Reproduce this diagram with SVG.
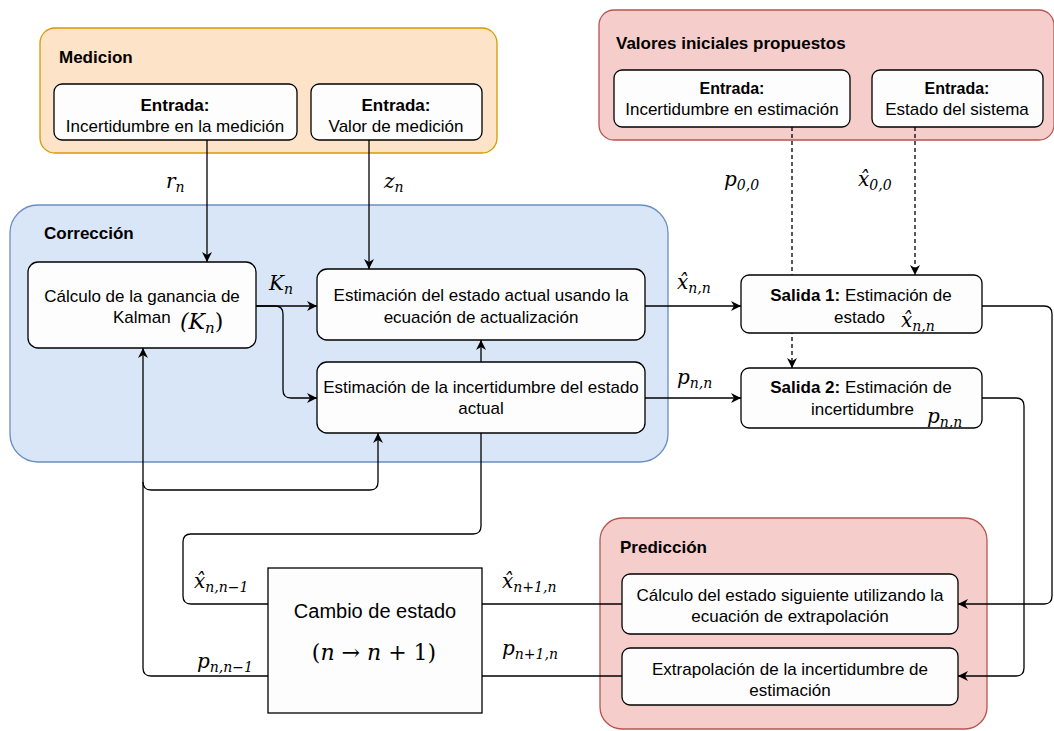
<svg xmlns="http://www.w3.org/2000/svg" width="1054" height="731" viewBox="0 0 1054 731">
<style>
.t{font-family:"Liberation Sans",Arial,sans-serif;font-size:17px;fill:#000}
.b{font-weight:bold}
.ttl{font-family:"Liberation Sans",Arial,sans-serif;font-size:17px;font-weight:bold;fill:#000}
.m{font-family:"DejaVu Serif","Liberation Serif",serif;font-style:italic;font-size:20px;fill:#000}
.s{font-size:14px}
.box{fill:#fdfdfd;stroke:#000;stroke-width:1.3}
.c{fill:none;stroke:#000;stroke-width:1.3}
.d{fill:none;stroke:#000;stroke-width:1.3;stroke-dasharray:4 3}
</style>
<defs>
<marker id="ah" viewBox="0 0 10 10" refX="10" refY="5" markerWidth="10" markerHeight="10" markerUnits="userSpaceOnUse" orient="auto">
<path d="M0,0 L10,5 L0,10 L3,5 z" fill="#000"/>
</marker>
</defs>
<rect width="1054" height="731" fill="#fff"/>
<g id="medicion-group">
<rect x="40" y="28" width="457" height="125" rx="15" fill="#fde3c7" stroke="#d79b00" stroke-width="1.3"/>
<text class="ttl" x="59" y="63">Medicion</text>
</g>
<g id="valores-group">
<rect x="599" y="10" width="455" height="130" rx="15" fill="#f5cdcb" stroke="#b85450" stroke-width="1.3"/>
<text class="ttl" x="616" y="49">Valores iniciales propuestos</text>
</g>
<g id="correccion-group">
<rect x="10" y="205" width="658" height="257" rx="28" fill="#d9e6f8" stroke="#6c8ebf" stroke-width="1.3"/>
<text class="ttl" x="44" y="239">Corrección</text>
</g>
<g id="prediccion-group">
<rect x="600" y="518" width="387" height="211" rx="22" fill="#f5cdcb" stroke="#b85450" stroke-width="1.3"/>
<text class="ttl" x="620" y="553">Predicción</text>
</g>
<g id="connectors">
<path class="c" d="M207,140 V262" marker-end="url(#ah)"/>
<path class="c" d="M369,140 V269" marker-end="url(#ah)"/>
<path class="c" d="M256,306 H317" marker-end="url(#ah)"/>
<path class="c" d="M256,306 H275 Q283,306 283,314 V390 Q283,398 291,398 H317" marker-end="url(#ah)"/>
<path class="c" d="M481,362 V340" marker-end="url(#ah)"/>
<path class="c" d="M645,306 H741" marker-end="url(#ah)"/>
<path class="c" d="M645,398 H741" marker-end="url(#ah)"/>
<path class="d" d="M792,127 V368" marker-end="url(#ah)"/>
<path class="d" d="M915,127 V275" marker-end="url(#ah)"/>
<path class="c" d="M982,306 H1044 Q1052,306 1052,314 V596 Q1052,604 1044,604 H958" marker-end="url(#ah)"/>
<path class="c" d="M982,398 H1016 Q1024,398 1024,406 V668 Q1024,676 1016,676 H958" marker-end="url(#ah)"/>
<path class="c" d="M622,604 H482"/>
<path class="c" d="M622,676 H482"/>
<path class="c" d="M268,604 H191 Q183,604 183,596 V542 Q183,534 191,534 H473 Q481,534 481,526 V433"/>
<path class="c" d="M268,676 H151 Q143,676 143,668 V348" marker-end="url(#ah)"/>
<path class="c" d="M143,482 Q143,490 151,490 H370 Q378,490 378,482 V433" marker-end="url(#ah)"/>
<text class="m" x="166" y="188">r<tspan class="s" dy="4">n</tspan></text>
<text class="m" x="384" y="188">z<tspan class="s" dy="4">n</tspan></text>
<text class="m" x="269" y="290">K<tspan class="s" dy="4">n</tspan></text>
<text class="m" x="677" y="289">x̂<tspan class="s" dy="4">n,n</tspan></text>
<text class="m" x="677" y="384">p<tspan class="s" dy="4">n,n</tspan></text>
<text class="m" x="724" y="186">p<tspan class="s" dy="4">0,0</tspan></text>
<text class="m" x="858" y="186">x̂<tspan class="s" dy="4">0,0</tspan></text>
<text class="m" x="194" y="588">x̂<tspan class="s" dy="4">n,n−1</tspan></text>
<text class="m" x="197" y="668">p<tspan class="s" dy="4">n,n−1</tspan></text>
<text class="m" x="502" y="588">x̂<tspan class="s" dy="4">n+1,n</tspan></text>
<text class="m" x="502" y="655">p<tspan class="s" dy="4">n+1,n</tspan></text>
</g>
<g id="in-incert-medicion">
<rect class="box" x="54" y="84" width="243" height="56" rx="8"/>
<text class="t b" x="175" y="111" text-anchor="middle">Entrada:</text>
<text class="t" x="175" y="132" text-anchor="middle">Incertidumbre en la medición</text>
</g>
<g id="in-valor-medicion">
<rect class="box" x="311" y="84" width="171" height="56" rx="8"/>
<text class="t b" x="396" y="111" text-anchor="middle">Entrada:</text>
<text class="t" x="396" y="132" text-anchor="middle">Valor de medición</text>
</g>
<g id="in-incert-estimacion">
<rect class="box" x="614" y="70" width="236" height="57" rx="8"/>
<text class="t b" x="732" y="94" text-anchor="middle" style="font-size:16px">Entrada:</text>
<text class="t" x="732" y="115" text-anchor="middle">Incertidumbre en estimación</text>
</g>
<g id="in-estado-sistema">
<rect class="box" x="872" y="70" width="171" height="57" rx="8"/>
<text class="t b" x="957" y="94" text-anchor="middle" style="font-size:16px">Entrada:</text>
<text class="t" x="957" y="115" text-anchor="middle">Estado del sistema</text>
</g>
<g id="kalman">
<rect class="box" x="28" y="262" width="228" height="86" rx="10"/>
<text class="t" x="142" y="302" text-anchor="middle">Cálculo de la ganancia de</text>
<text class="t" x="113" y="323">Kalman</text>
<text class="m" x="180" y="329" style="font-size:22px">(K<tspan class="s" dy="4" style="font-size:15px">n</tspan><tspan dy="-4" style="font-style:normal">)</tspan></text>
</g>
<g id="estado-actual">
<rect class="box" x="317" y="269" width="328" height="71" rx="10"/>
<text class="t" x="481" y="301" text-anchor="middle">Estimación del estado actual usando la</text>
<text class="t" x="481" y="323" text-anchor="middle">ecuación de actualización</text>
</g>
<g id="incert-actual">
<rect class="box" x="317" y="362" width="328" height="71" rx="10"/>
<text class="t" x="481" y="393" text-anchor="middle">Estimación de la incertidumbre del estado</text>
<text class="t" x="481" y="414" text-anchor="middle">actual</text>
</g>
<g id="salida1">
<rect class="box" x="741" y="275" width="241" height="58" rx="8"/>
<text class="t" x="861" y="301" text-anchor="middle"><tspan class="b">Salida 1:</tspan> Estimación de</text>
<text class="t" x="834" y="323">estado</text>
<text class="m" x="901" y="327">x̂<tspan class="s" dy="4">n,n</tspan></text>
</g>
<g id="salida2">
<rect class="box" x="741" y="368" width="241" height="60" rx="8"/>
<text class="t" x="861" y="393" text-anchor="middle"><tspan class="b">Salida 2:</tspan> Estimación de</text>
<text class="t" x="811" y="415">incertidumbre</text>
<text class="m" x="927" y="423">p<tspan class="s" dy="4">n,n</tspan></text>
</g>
<g id="pred-estado">
<rect class="box" x="622" y="574" width="336" height="60" rx="8"/>
<text class="t" x="790" y="601" text-anchor="middle">Cálculo del estado siguiente utilizando la</text>
<text class="t" x="790" y="622" text-anchor="middle">ecuación de extrapolación</text>
</g>
<g id="pred-incert">
<rect class="box" x="622" y="648" width="336" height="57" rx="8"/>
<text class="t" x="790" y="675" text-anchor="middle">Extrapolación de la incertidumbre de</text>
<text class="t" x="790" y="696" text-anchor="middle">estimación</text>
</g>
<g id="cambio-estado">
<rect x="268" y="568" width="214" height="145" fill="#fdfdfd" stroke="#000" stroke-width="1.3"/>
<text class="t" x="375" y="618" text-anchor="middle" style="font-size:20px">Cambio de estado</text>
<text class="m" x="374" y="660" text-anchor="middle" style="font-style:normal;font-size:22px">(<tspan font-style="italic">n</tspan> → <tspan font-style="italic">n</tspan> + 1)</text>
</g>
</svg>
